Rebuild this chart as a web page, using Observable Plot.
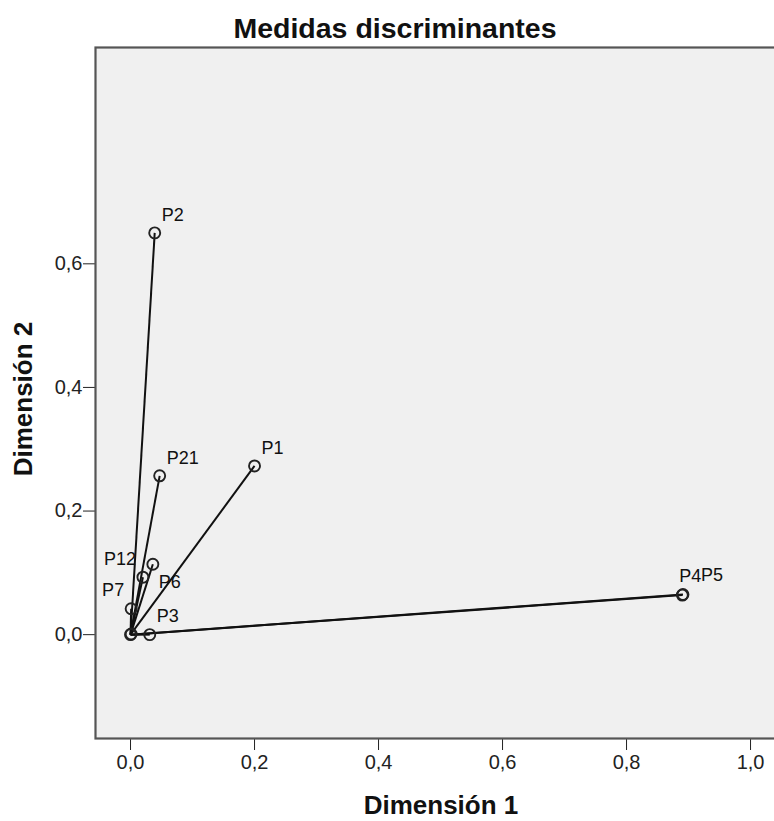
<!DOCTYPE html>
<html>
<head>
<meta charset="utf-8">
<script src="https://cdn.jsdelivr.net/npm/d3@7"></script>
<script src="https://cdn.jsdelivr.net/npm/@observablehq/plot@0.6"></script>
<style>
  html, body { margin: 0; padding: 0; background: #fff; overflow: hidden; }
  #wrap { position: relative; width: 774px; height: 821px; }
  #title { position: absolute; left: 8px; top: 12px; width: 774px; height: 30px; line-height: 30px; text-align: center; font: bold 28.5px "Liberation Sans", Arial, sans-serif; color: #111; }
  #chart { position: absolute; left: 0; top: 40px; }
</style>
</head>
<body>
<div id="wrap">
<div id="title">Medidas discriminantes</div>
<div id="chart"></div>
</div>
<script>
// Discrimination measures (Dimensión 1, Dimensión 2)
const names = ["P1", "P2", "P3", "P4", "P5", "P6", "P7", "P12", "P21", "", ""];
const dim1  = [0.200, 0.039, 0.031, 0.890, 0.891, 0.036, 0.001, 0.020, 0.047, 0.001, 0.000];
const dim2  = [0.273, 0.650, 0.000, 0.064, 0.065, 0.114, 0.042, 0.093, 0.257, 0.001, 0.000];
const xTicks = [0, 0.2, 0.4, 0.6, 0.8, 1.0];
const yTicks = [0, 0.2, 0.4, 0.6];

const pts = names.map((n, i) => ({name: n, x: dim1[i], y: dim2[i]}));
const fmt = d => d.toFixed(1).replace(".", ",");

const upperRight = ["P1", "P2", "P3", "P21"];
const upperLeft = ["P7", "P12"];
const lowerRight = ["P6"];

const chart = Plot.plot({
  width: 774,
  height: 781,
  marginTop: 7,
  marginLeft: 95,
  marginRight: -12,
  marginBottom: 83,
  style: {fontFamily: "Liberation Sans, Arial, sans-serif", fontSize: "18px", color: "#222", background: "#fff", overflow: "hidden"},
  x: {domain: [-0.0565, 1.058], ticks: xTicks, tickFormat: fmt, tickSize: 12, tickPadding: 4,
      label: "Dimensión 1", labelAnchor: "center", labelOffset: 75, labelArrow: "none"},
  y: {domain: [-0.168, 0.95], ticks: yTicks, tickFormat: fmt, tickSize: 12, tickPadding: 1,
      label: "Dimensión 2", labelAnchor: "center", labelOffset: 82, labelArrow: "none"},
  marks: [
    Plot.frame({fill: "#f0f0f0", stroke: "#555", strokeWidth: 2.2}),
    Plot.link(pts, {x1: d => 0, y1: d => 0, x2: "x", y2: "y", stroke: "#111", strokeWidth: 2}),
    Plot.dot(pts, {x: "x", y: "y", r: 5.5, stroke: "#222", strokeWidth: 1.9, fill: "none"}),
    Plot.text(pts.filter(d => upperRight.includes(d.name)), {x: "x", y: "y", text: "name", textAnchor: "start", dx: 7, dy: -18, fill: "#111"}),
    Plot.text(pts.filter(d => upperLeft.includes(d.name)), {x: "x", y: "y", text: "name", textAnchor: "end", dx: -7, dy: -18, fill: "#111"}),
    Plot.text(pts.filter(d => lowerRight.includes(d.name)), {x: "x", y: "y", text: "name", textAnchor: "start", dx: 6, dy: 18, fill: "#111"}),
    Plot.text(pts.filter(d => d.name === "P4"), {x: "x", y: "y", text: "name", textAnchor: "start", dx: -3, dy: -19, fill: "#111"}),
    Plot.text(pts.filter(d => d.name === "P5"), {x: "x", y: "y", text: "name", textAnchor: "start", dx: 18, dy: -19, fill: "#111"})
  ]
});
chart.querySelectorAll("[aria-label='x-axis tick label'] text, [aria-label='y-axis tick label'] text").forEach(t => {
  t.style.fontSize = "20px";
});
chart.querySelectorAll("[aria-label='x-axis label'] text, [aria-label='y-axis label'] text").forEach(t => {
  t.style.fontWeight = "bold"; t.style.fontSize = "26px"; t.setAttribute("fill", "#111");
});
chart.querySelectorAll("[aria-label='y-axis label'] text").forEach(t => {
  t.setAttribute("dx", "-6");
});
document.getElementById("chart").appendChild(chart);
</script>
</body>
</html>
